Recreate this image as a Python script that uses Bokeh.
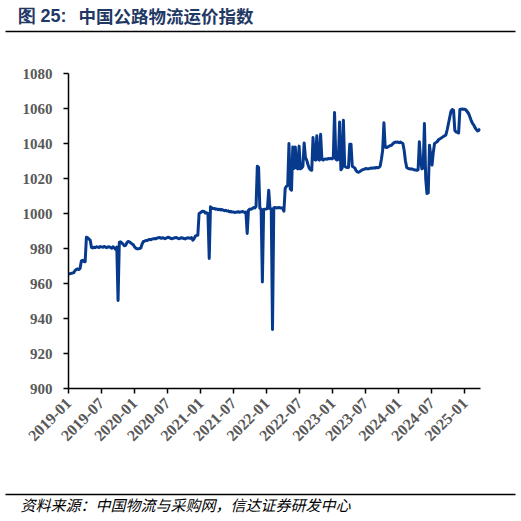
import math
import pandas as pd
from bokeh.plotting import figure
from bokeh.layouts import column
from bokeh.models import Range1d, FixedTicker, DatetimeTickFormatter, ColumnDataSource
from bokeh.core.properties import value
from bokeh.embed import file_html
from bokeh.resources import INLINE

# ---------------- data ----------------
title_no = "图 25:"
title_text = "中国公路物流运价指数"
source_text = "资料来源：中国物流与采购网，信达证券研发中心"

start_date = "2019-01-02"
index_values = [
    965.5, 965.6, 965.8, 966.0, 966.2, 967.4, 968.0, 968.3, 968.0, 968.6,
    972.8, 973.3, 972.6, 972.4, 986.4, 986.2, 985.4, 984.8, 980.6, 980.3,
    980.7, 980.5, 981.0, 980.8, 980.6, 981.1, 980.9, 980.7, 981.2, 980.8,
    980.5, 980.9, 981.0, 980.6, 980.2, 981.0, 980.4, 979.6, 980.8, 950.3,
    983.6, 983.8, 983.2, 982.4, 981.6, 981.8, 983.4, 984.0, 983.8, 983.2,
    982.6, 982.2, 981.0, 980.2, 979.8, 979.9, 980.0, 980.3, 982.6, 984.0,
    984.2, 984.6, 984.5, 985.0, 985.2, 985.0, 985.4, 985.5, 985.7, 985.6,
    986.0, 986.2, 986.3, 985.8, 986.1, 986.0, 985.6, 985.9, 986.3, 986.4,
    986.0, 985.7, 985.6, 985.9, 986.2, 986.3, 985.9, 985.6, 985.8, 986.2,
    986.0, 985.7, 985.5, 985.9, 986.1, 986.0, 985.8, 986.2, 984.8, 985.5,
    987.0, 987.5, 987.6, 1000.0, 1000.4, 1001.0, 1001.3, 1001.2, 1000.2, 1000.4,
    1000.0, 974.3, 1003.8, 1003.2, 1002.8, 1002.9, 1002.5, 1002.6, 1002.2, 1002.4,
    1002.0, 1002.3, 1001.9, 1001.6, 1001.8, 1001.4, 1001.5, 1001.0, 1001.2, 1000.8,
    1000.9, 1000.6, 1000.7, 1000.9, 1001.0, 1000.7, 1000.9, 1001.1, 1001.0, 1000.6,
    1000.8, 988.6, 1001.8, 1002.5, 1002.4, 1002.8, 1003.4, 1003.2, 1004.0, 1027.0,
    1026.4, 1003.0, 1002.6, 960.9, 1002.3, 1002.5, 1002.6, 1002.8, 1013.3, 1002.8,
    1002.6, 933.7, 1003.3, 1003.4, 1003.2, 1003.3, 1003.4, 1003.3, 1003.2, 1003.0,
    1001.3, 1014.3, 1015.6, 1016.0, 1040.0, 1014.0, 1013.3, 1038.0, 1025.7, 1038.0,
    1026.0, 1025.5, 1038.5, 1025.5, 1026.0, 1027.0, 1040.3, 1032.0, 1030.5, 1028.0,
    1025.8, 1025.0, 1024.7, 1043.4, 1031.0, 1030.5, 1044.4, 1031.0, 1030.5, 1045.3,
    1031.0, 1030.5, 1031.0, 1031.2, 1031.0, 1031.4, 1031.3, 1031.5, 1031.2, 1031.8,
    1057.7, 1031.0, 1030.5, 1031.0, 1052.3, 1025.0, 1026.0, 1053.3, 1027.0, 1026.5,
    1026.3, 1026.3, 1039.6, 1039.6, 1027.0, 1026.5, 1026.0, 1024.5, 1023.8, 1023.6,
    1024.0, 1024.5, 1025.0, 1025.2, 1025.5, 1025.7, 1025.5, 1025.6, 1025.8, 1026.0,
    1025.9, 1026.1, 1026.0, 1026.3, 1026.2, 1026.3, 1027.0, 1031.0, 1036.0, 1051.8,
    1038.0, 1037.7, 1038.0, 1038.4, 1038.8, 1039.0, 1039.8, 1040.5, 1040.8, 1040.7,
    1040.8, 1040.5, 1040.8, 1040.4, 1040.0, 1036.0, 1030.0, 1026.3, 1025.8, 1025.6,
    1025.4, 1025.5, 1025.2, 1025.0, 1024.8, 1024.7, 1025.0, 1041.0, 1030.0, 1025.5,
    1026.0, 1051.4, 1020.0, 1011.4, 1011.8, 1039.0, 1033.0, 1027.7, 1035.0, 1040.0,
    1040.5, 1041.0, 1042.0, 1042.6, 1043.0, 1043.5, 1044.0, 1044.4, 1045.0, 1048.0,
    1051.4, 1055.0, 1058.5, 1059.4, 1059.0, 1047.5, 1046.6, 1046.3, 1046.0, 1059.4,
    1059.6, 1059.7, 1059.6, 1059.6, 1059.0, 1058.0, 1057.0, 1055.0, 1053.0, 1051.5,
    1050.5, 1049.0, 1048.0, 1047.2, 1047.5, 1048.5,
]
x_tick_labels = ["2019-01", "2019-07", "2020-01", "2020-07", "2021-01", "2021-07",
                 "2022-01", "2022-07", "2023-01", "2023-07", "2024-01", "2024-07",
                 "2025-01"]
y_ticks = [900, 920, 940, 960, 980, 1000, 1020, 1040, 1060, 1080]
x_start = "2019-01-01"
x_end = "2025-03-28"

dates = pd.date_range(start=start_date, periods=len(index_values), freq="7D")
src = ColumnDataSource(dict(date=dates, value=index_values))


def ms(s):
    return pd.Timestamp(s).value / 1e6


W = 521
HEAD_H, MAIN_H, FOOT_H = 36, 444, 41
navy = "#1f3864"
gray = "#595959"


def blank(h):
    f = figure(width=W, height=h, output_backend="svg", toolbar_location=None,
               x_range=Range1d(0, W), y_range=Range1d(h, 0),
               x_axis_location=None, y_axis_location=None,
               min_border=0, min_border_left=0, min_border_right=0,
               min_border_top=0, min_border_bottom=0)
    f.grid.visible = False
    f.outline_line_color = None
    f.background_fill_color = "white"
    f.border_fill_color = "white"
    f.frame_align = False
    return f


# ---------------- header ----------------
head = blank(HEAD_H)
head.text(x=[17], y=[15], text=[title_no], text_font=value("Liberation Sans"),
          text_font_style="bold", text_font_size="18px", text_color=navy,
          text_baseline="middle", text_align="left")
head.text(x=[78], y=[15], text=[title_text], text_font=value("Noto Sans CJK SC"),
          text_font_style="bold", text_font_size="17.5px", text_color=navy,
          text_baseline="middle", text_align="left")
head.line(x=[5, 515], y=[31, 31], line_color="black", line_width=1.4)

# ---------------- main chart ----------------
p = figure(width=W, height=MAIN_H, output_backend="svg", toolbar_location=None,
           x_axis_type="datetime",
           x_range=Range1d(ms(x_start), ms(x_end)),
           y_range=Range1d(900, 1080),
           min_border_left=68, min_border_right=41, min_border_top=37, min_border_bottom=92)
p.outline_line_color = None
p.grid.visible = False
p.background_fill_color = "white"
p.border_fill_color = "white"
p.frame_align = False

p.line("date", "value", source=src, line_color="#073a8c", line_width=3, line_join="round")

for ax in (p.xaxis[0], p.yaxis[0]):
    ax.axis_line_color = "black"
    ax.axis_line_width = 1.5
    ax.major_tick_line_color = "black"
    ax.major_tick_line_width = 1.5
    ax.major_tick_in = 0
    ax.major_tick_out = 5
    ax.minor_tick_line_color = None
    ax.major_label_text_font = "Liberation Serif"
    ax.major_label_text_font_style = "bold"
    ax.major_label_text_color = gray

p.yaxis[0].major_label_text_font_size = "15px"
p.yaxis[0].ticker = FixedTicker(ticks=y_ticks)
p.yaxis[0].major_label_standoff = 11
p.xaxis[0].major_label_text_font_size = "16px"
p.xaxis[0].ticker = FixedTicker(ticks=[ms(t + "-01") for t in x_tick_labels])
p.xaxis[0].formatter = DatetimeTickFormatter(days="%Y-%m", months="%Y-%m", years="%Y-%m")
p.xaxis[0].major_label_orientation = math.pi / 4
p.xaxis[0].major_label_standoff = 7

# ---------------- footer ----------------
foot = blank(FOOT_H)
foot.line(x=[5, 515], y=[14, 14], line_color="black", line_width=1.4)
foot.text(x=[20], y=[24], text=[source_text], text_font=value("Noto Sans CJK SC"),
          text_font_style="italic", text_font_size="15px", text_color="black",
          text_baseline="middle", text_align="left")

layout = column(head, p, foot, spacing=0)
open("out.html", "w").write(file_html(layout, INLINE))
